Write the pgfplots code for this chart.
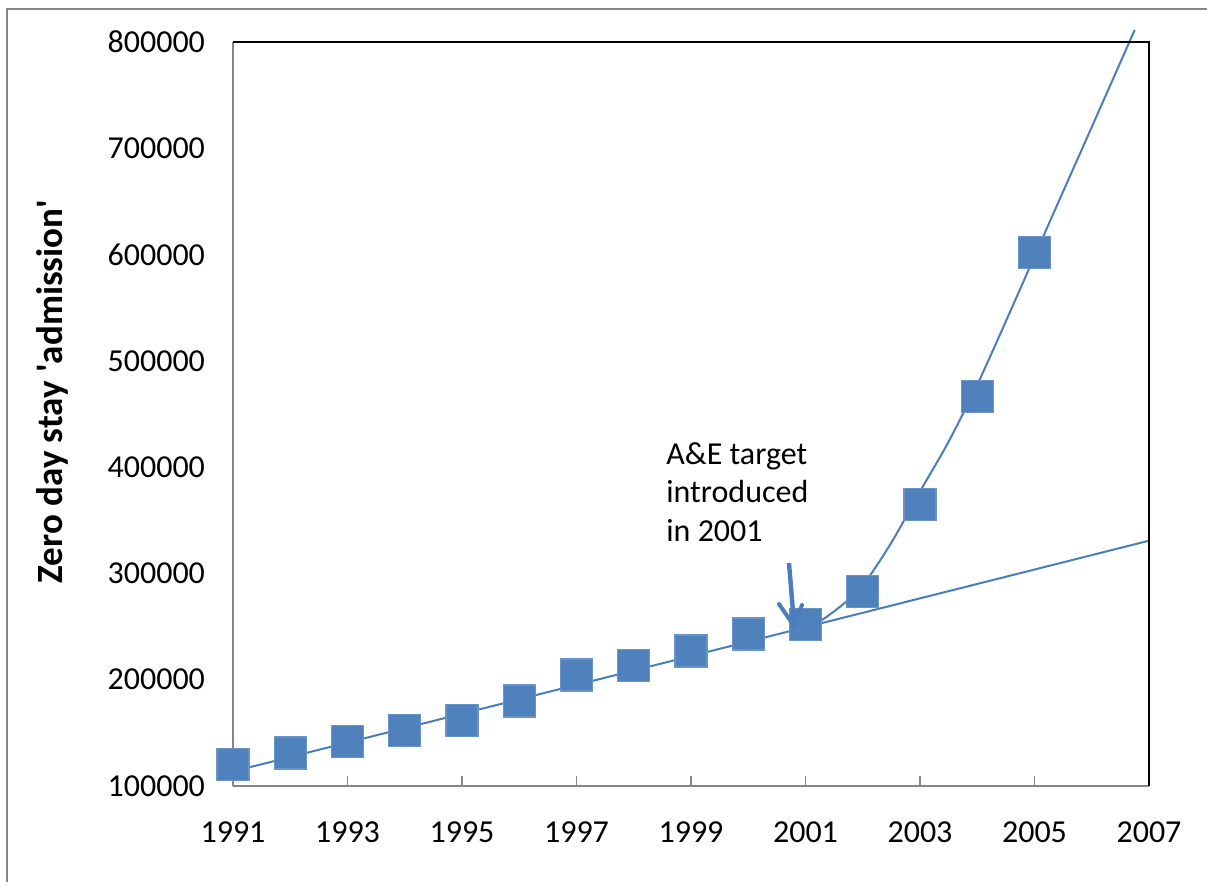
\documentclass[border=0pt]{standalone}
\usepackage{pgfplots}
\pgfplotsset{compat=1.18}
\usepackage{fontspec}
\setmainfont{Carlito}
\definecolor{xlblue}{HTML}{4F81BD}
\definecolor{xlline}{HTML}{4A7EBB}
\definecolor{axgray}{HTML}{868686}

\begin{document}
\begin{tikzpicture}[x=1pt,y=1pt]
\useasboundingbox (0,0) rectangle (603.5,-441);
\draw[axgray, line width=0.8pt] (3.5,-441) -- (3.5,-4.5) -- (603.5,-4.5);
\begin{axis}[
  at={(116.5pt,-393pt)}, anchor=south west,
  width=458pt, height=372pt, scale only axis,
  xmin=1991, xmax=2007, ymin=100000, ymax=800000,
  axis x line*=bottom, axis y line*=left,
  axis line style={axgray, line width=1pt},
  xtick={1991,1993,1995,1997,1999,2001,2003,2005,2007},
  ytick={100000,200000,300000,400000,500000,600000,700000,800000},
  tick align=inside, major tick length=5pt,
  xtick style={axgray, line width=0.8pt},
  ytick style={draw=none},
  scaled y ticks=false, scaled x ticks=false,
  /pgf/number format/.cd, fixed, precision=0, 1000 sep={}, assume math mode=true, /pgfplots/.cd,
  tick label style={font=\fontsize{16}{19}\selectfont},
  xticklabel style={yshift=-14.5pt},
  yticklabel style={xshift=-10.5pt},
  clip=false,
]
\addplot[only marks, mark=square*, mark size=8pt, mark options={fill=xlblue, draw=xlblue!85!white, line width=0.6pt}] coordinates {
(1991,120000) (1992,131000) (1993,141500) (1994,152000) (1995,162000)
(1996,180000) (1997,204500) (1998,213000) (1999,227000) (2000,243000)
(2001,251700) (2002,283000) (2003,365000) (2004,466500) (2005,602000)
};
\addplot[xlline, line width=1pt, no marks] coordinates {(1990.91,112500) (2007,330800)};
\addplot[xlline, line width=1pt, no marks, smooth] coordinates {
(2001.0,249000) (2001.27,255500) (2001.73,274300) (2002.06,293100) (2002.52,330800)
(2003.04,380800) (2003.5,424000) (2004.03,481000) (2004.675,558500) (2005.226,626000)
(2006.0,720000) (2006.75,811300)
};
\draw[black, line width=1.2pt] (rel axis cs:0,1) -- (rel axis cs:1,1) -- (rel axis cs:1,0);
\end{axis}
\node[anchor=north west, align=left, inner sep=0pt, font=\fontsize{16}{19.25}\selectfont] at (333,-221) {A\&E target\\introduced\\in 2001};
\draw[xlline, line width=2.2pt] (394.5,-281.5) -- (397,-312);
\draw[xlline, line width=2pt, line cap=round, line join=round] (389.5,-302) -- (397,-313) -- (401,-302.5);
\node[rotate=90, font=\bfseries\fontsize{18.5}{22}\selectfont] at (26.4,-195.75) {Zero day stay \textquotesingle admission\textquotesingle};
\end{tikzpicture}
\end{document}
